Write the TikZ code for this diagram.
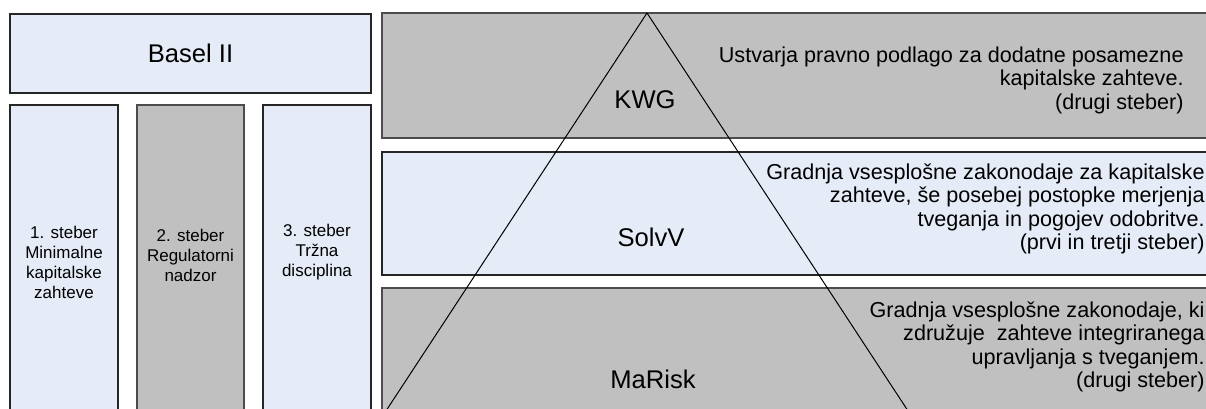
\documentclass[tikz,border=0pt]{standalone}
\usepackage{fontspec}
\setmainfont{Liberation Sans}
\definecolor{paleblue}{RGB}{229,236,247}
\definecolor{midgray}{RGB}{192,192,192}
\begin{document}
\begin{tikzpicture}[x=0.5pt, y=-0.5pt,
    every node/.style={inner sep=0pt, text=black},
    bluebox/.style={draw=black!85, fill=paleblue, line width=0.55pt},
    graybox/.style={draw=black!70, fill=midgray, line width=0.55pt},
    pillartext/.style={font=\fontsize{8.5}{10}\selectfont, align=center},
    lawtext/.style={font=\fontsize{12.8}{15}\selectfont},
    notetext/.style={font=\fontsize{10.8}{11.75}\selectfont, align=right, anchor=east}]
    \useasboundingbox (0,0) rectangle (1206,408);
    \clip (0,0) rectangle (1206,408);

    % Basel II and its pillars
    \path[bluebox] (10,14) rectangle (371,93);
    \node (basel) [lawtext] at (190.5,53.5) {Basel II};
    \path[bluebox] (10,105) rectangle (118,420);
    \path[graybox] (137,105) rectangle (244,420);
    \path[bluebox] (263,105) rectangle (371,420);
    \node (p1) [pillartext] at (64,262) {1. steber\\Minimalne\\kapitalske\\zahteve};
    \node (p2) [pillartext] at (190.5,255) {2. steber\\Regulatorni\\nadzor};
    \node (p3) [pillartext] at (317,252) {3. steber\\Tržna\\disciplina};

    % Bands of German law
    \path[graybox] (382,13) rectangle (1220,138);
    \path[bluebox] (382,152) rectangle (1220,275);
    \path[graybox] (382,288) rectangle (1220,430);

    % Pyramid
    \coordinate (apex) at (647,13);
    \coordinate (baseL) at (380,420);
    \coordinate (baseR) at (914,420);
    \draw[line width=0.5pt] (baseL) -- (apex) -- (baseR);

    % Labels in the pyramid
    \node (kwg) [lawtext] at (645,100) {KWG};
    \node (solvv) [lawtext] at (651,237) {SolvV};
    \node (marisk) [lawtext] at (653,379) {MaRisk};

    % Notes
    \node (kwgnote) [notetext] at (1184,80) {Ustvarja pravno podlago za dodatne posamezne\\kapitalske zahteve.\\(drugi steber)};
    \node (solvnote) [notetext] at (1205,209) {Gradnja vsesplošne zakonodaje za kapitalske\\zahteve, še posebej postopke merjenja\\tveganja in pogojev odobritve.\\(prvi in tretji steber)};
    \node (marisknote) [notetext] at (1205,347) {Gradnja vsesplošne zakonodaje, ki\\združuje\ \ zahteve integriranega\\upravljanja s tveganjem.\\(drugi steber)};
\end{tikzpicture}
\end{document}
